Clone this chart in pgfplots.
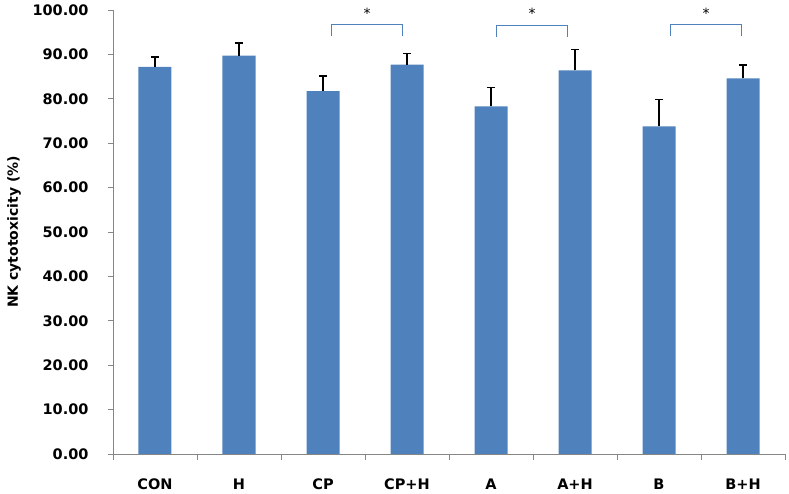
\documentclass[border=0pt]{standalone}
\usepackage{pgfplots}
\pgfplotsset{compat=1.18}
\usepackage{fontspec}
\setmainfont{DejaVu Sans}
\definecolor{barblue}{RGB}{79,129,189}
\definecolor{axgray}{RGB}{134,134,134}
\begin{document}
\begin{tikzpicture}
\useasboundingbox (-113pt,-40pt) rectangle (676pt,454pt);
\begin{axis}[
  at={(0,0)}, anchor=south west,
  scale only axis, width=672pt, height=444pt,
  xmin=-0.5, xmax=7.5, ymin=0, ymax=100,
  axis x line*=bottom, axis y line*=left,
  axis line style={draw=axgray, line width=0.8pt, -},
  tick align=outside,
  xtick={0,...,7},
  xticklabels={CON,H,CP,CP+H,A,A+H,B,B+H},
  major x tick style={draw=none},
  minor xtick={-0.5,0.5,...,7.5},
  minor x tick style={draw=axgray, line width=0.8pt},
  minor tick length=6pt,
  ytick={0,10,...,100},
  major y tick style={draw=axgray, line width=0.8pt},
  major tick length=5pt,
  yticklabel style={font=\fontsize{14.5}{16}\selectfont\bfseries, xshift=-16pt},
  xticklabel style={font=\fontsize{14.5}{16}\selectfont\bfseries, yshift=-16pt},
  /pgf/number format/.cd, fixed, fixed zerofill, precision=2, assume math mode=true,
  /pgfplots/.cd,
  ylabel={NK cytotoxicity (\%)},
  ylabel style={font=\fontsize{14}{16}\selectfont\bfseries, at={(rel axis cs:0,0.5)}, anchor=center, yshift=99pt},
  clip=false,
]
\addplot[ybar, bar width=33pt, fill=barblue, draw=none,
  error bars/.cd, y dir=plus, y explicit,
  error bar style={black, line width=1.6pt},
  error mark options={black, line width=1.6pt, mark size=4.2pt, rotate=90}]
  table[x=x, y=y, y error=e] {
x y e
0 87.2 2.2
1 89.7 2.8
2 81.7 3.5
3 87.7 2.5
4 78.3 4.2
5 86.4 4.7
6 73.8 6.0
7 84.6 3.0
};
\addplot[barblue, line width=1pt, sharp plot, mark=none] coordinates {(2.10,94.2) (2.10,96.7) (2.95,96.7) (2.95,94.2)};
\addplot[barblue, line width=1pt, sharp plot, mark=none] coordinates {(4.07,94.0) (4.07,96.5) (4.91,96.5) (4.91,94.0)};
\addplot[barblue, line width=1pt, sharp plot, mark=none] coordinates {(6.14,94.2) (6.14,96.7) (6.98,96.7) (6.98,94.2)};
\node[font=\fontsize{14}{16}\selectfont] at (axis cs:2.525,99.3) {*};
\node[font=\fontsize{14}{16}\selectfont] at (axis cs:4.49,99.3) {*};
\node[font=\fontsize{14}{16}\selectfont] at (axis cs:6.56,99.3) {*};
\end{axis}
\end{tikzpicture}
\end{document}
